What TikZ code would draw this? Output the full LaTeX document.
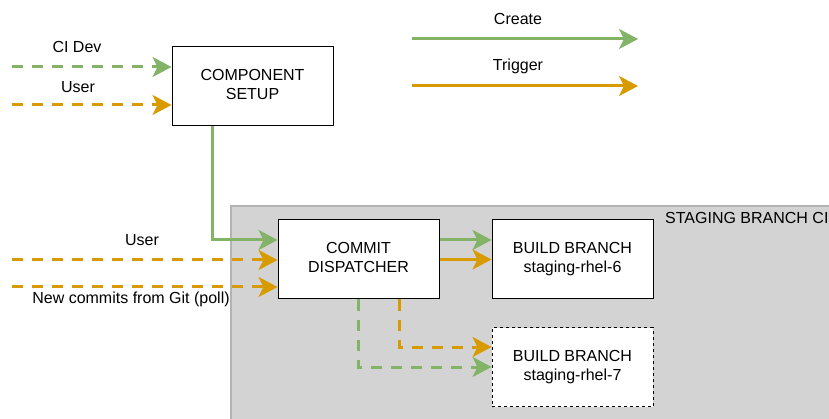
\documentclass[tikz,border=0pt]{standalone}
\usepackage{fontspec}
\setmainfont{Liberation Sans}
\usetikzlibrary{arrows.meta}

\definecolor{creategreen}{HTML}{82B366}
\definecolor{triggerorange}{HTML}{D79B00}
\definecolor{ciback}{HTML}{D3D3D3}
\definecolor{ciedge}{HTML}{B3B3B3}

\begin{document}
\begin{tikzpicture}[x=1pt, y=-1pt, font=\fontsize{16}{19}\selectfont]
        \tikzstyle{box}=[rectangle, draw=black, fill=white, line width=1pt, minimum width=161pt, minimum height=79pt, inner sep=0pt]
        \tikzstyle{txt}=[inner sep=0pt, text=black]
        \tikzstyle{create}=[creategreen, line width=3pt, -{Stealth[length=19pt, width=20pt, inset=5pt]}]
        \tikzstyle{trigger}=[triggerorange, line width=3pt, -{Stealth[length=19pt, width=20pt, inset=5pt]}]
        \tikzstyle{later}=[dash pattern=on 11pt off 9pt]

        \useasboundingbox (0,0) rectangle (829,419);

        % staging CI area, runs off the page
        \draw[fill=ciback, draw=ciedge, line width=1.5pt] (231,206) rectangle (860,450);
        \node[txt, anchor=west] (cilabel) at (665,218) {STAGING BRANCH CI};

        \node[box] (setup) at (252.5,86)        {\begin{tabular}{c} COMPONENT    \\ SETUP          \end{tabular}};
        \node[box] (dispatch) at (358.5,259.5)  {\begin{tabular}{c} COMMIT       \\ DISPATCHER     \end{tabular}};
        \node[box] (rhelsix) at (572.5,259.5)   {\begin{tabular}{c} BUILD BRANCH \\ staging-rhel-6 \end{tabular}};
        \node[box, dash pattern=on 3pt off 3pt] (rhelseven) at (572.5,367) {\begin{tabular}{c} BUILD BRANCH \\ staging-rhel-7 \end{tabular}};

        \node[txt] (cidev) at (77,47)           {CI Dev};
        \node[txt] (setupuser) at (78,87)       {User};
        \node[txt] (dispatchuser) at (142,240)  {User};
        \node[txt] (gitpoll) at (131,299)       {New commits from Git (poll)};
        \node[txt] (createtxt) at (518,19)      {Create};
        \node[txt] (triggertxt) at (518,66)     {Trigger};

        \coordinate (cidevin) at (12,67);
        \coordinate (setupuserin) at (12,105);
        \coordinate (dispatchuserin) at (12,260);
        \coordinate (gitin) at (12,287);
        \coordinate (createfrom) at (412,39);
        \coordinate (createto) at (638,39);
        \coordinate (triggerfrom) at (412,86);
        \coordinate (triggerto) at (638,86);

        % legend
        \draw[create] (createfrom) -- (createto);
        \draw[trigger] (triggerfrom) -- (triggerto);

        \draw[create, later] (cidevin) -- (setup.west |- cidevin);
        \draw[trigger, later] (setupuserin) -- (setup.west |- setupuserin);
        \draw[create] ([xshift=-40.5pt]setup.south) |- ([yshift=19.5pt]dispatch.west);

        \draw[trigger, later] (dispatchuserin) -- (dispatch.west |- dispatchuserin);
        \draw[trigger, later] (gitin) -- (dispatch.west |- gitin);

        \draw[create] ([yshift=19.5pt]dispatch.east) -- ([yshift=19.5pt]rhelsix.west);
        \draw[trigger] (dispatch.east) -- (rhelsix.west);

        \draw[create, later] (dispatch.south) |- (rhelseven.west);
        \draw[trigger, later] ([xshift=40.5pt]dispatch.south) |- ([yshift=20pt]rhelseven.west);
    \end{tikzpicture}
\end{document}
